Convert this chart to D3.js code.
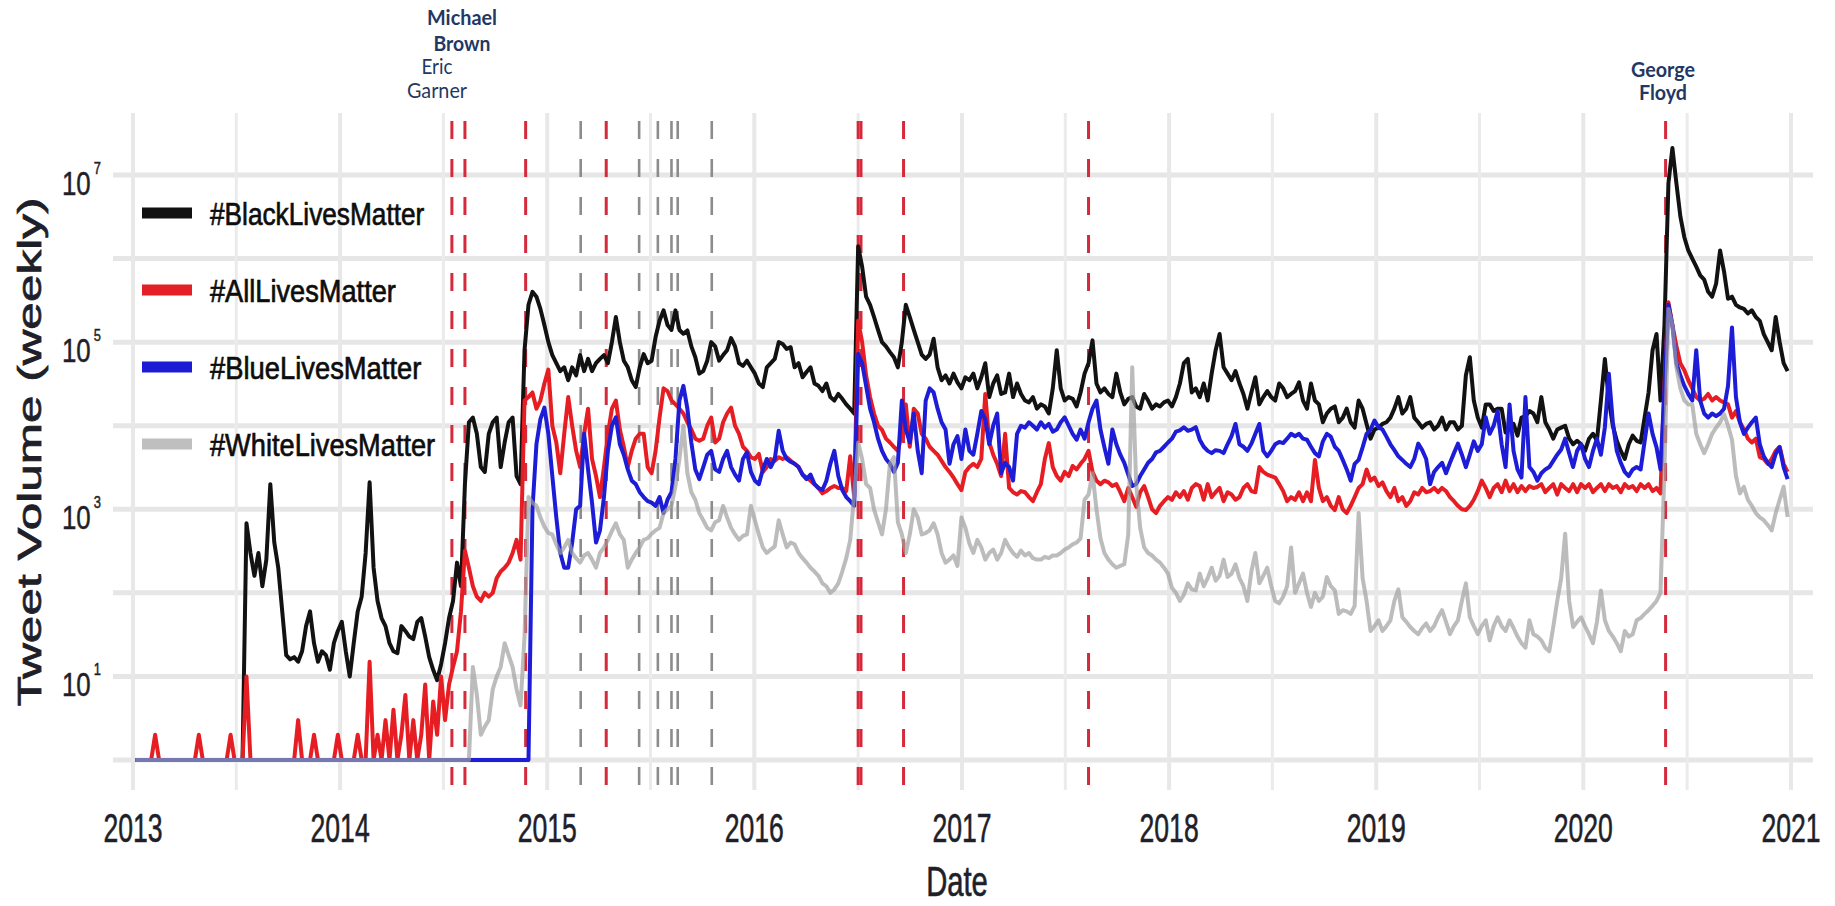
<!DOCTYPE html>
<html>
<head>
<meta charset="utf-8">
<script src="https://cdn.jsdelivr.net/npm/d3@7"></script>
<style>
  html, body { margin: 0; padding: 0; background: #ffffff; }
  svg { display: block; }
</style>
</head>
<body>
<svg id="chart" width="1835" height="906"></svg>
<script>
// Weekly tweet counts per hashtag, one value per week starting 2013-01-05
const firstWeek = "2013-01-05";

const blackLivesMatter = [
  // 2013
  1,1,1,1,1,1,1,1,1,1,1,1,1,1,1,1,1,1,1,1,1,1,1,1,1,1,1,1,
  680,300,160,300,120,250,2000,400,200,60,18,16,17,15,20,40,60,25,15,20,18,12,25,35,
  // 2014
  45,20,10,25,60,90,300,2100,200,80,
  50,40,25,20,19,40,35,30,28,45,
  50,30,17,12,9,14,25,50,80,230,
  120,2000,11000,12500,8000,3200,2800,8000,11000,12500,
  3200,6300,11000,12500,2500,2000,80000,280000,400000,350000,
  250000,160000,
  // 2015
  100000,70000,56000,45000,50000,35000,50000,40000,70000,45000,
  63000,45000,56000,63000,70000,56000,100000,200000,100000,60000,
  50000,35000,29000,50000,72000,56000,60000,115000,180000,240000,
  160000,140000,240000,140000,126000,138000,89000,66000,42000,45000,
  60000,100000,89000,60000,70000,80000,112000,89000,56000,52000,
  60000,50000,
  // 2016
  42000,32000,29000,50000,56000,63000,100000,95000,83000,87000,
  50000,56000,38000,44000,50000,32000,30000,26000,32000,22000,
  20000,24000,21000,18000,16000,14000,1400000,800000,350000,280000,
  200000,140000,100000,89000,76000,66000,50000,100000,280000,200000,
  140000,100000,71000,63000,71000,110000,50000,35000,40000,32000,
  42000,33000,28000,
  // 2017
  38000,35000,42000,28000,38000,56000,22000,32000,40000,24000,
  25000,42000,22000,32000,24000,20000,19000,22000,16000,18000,
  17000,14000,28000,80000,28000,20000,22000,21000,17000,25000,
  42000,56000,105000,32000,25000,28000,24000,22000,42000,25000,
  18000,21000,22000,17000,16000,24000,20000,16000,18000,17000,
  19000,20000,
  // 2018
  17000,22000,32000,56000,63000,25000,28000,22000,32000,20000,
  42000,80000,125000,50000,42000,35000,45000,32000,24000,16000,
  25000,38000,18000,22000,26000,22000,20000,32000,28000,22000,
  24000,26000,33000,20000,16000,32000,20000,18000,11000,14000,
  16000,17000,11000,12500,16000,11000,9500,20000,16000,10500,
  7000,9000,
  // 2019
  9500,10500,11000,12500,16000,22000,14000,16000,22000,12500,
  11000,9500,10500,11000,9000,10000,12500,9000,11000,11000,
  9000,10000,40000,66000,20000,12500,9500,18000,18000,15000,
  16000,16000,8300,10000,10500,7600,12500,13000,15000,14000,
  11000,22000,11000,9000,7000,9000,9500,10000,7000,6000,
  6600,6000,
  // 2020
  5000,7000,8000,6600,20000,63000,20000,10000,6600,5000,
  4000,6000,7600,6600,6300,12500,25000,80000,125000,20000,
  160000,8000000,21000000,8000000,3200000,1800000,1250000,1000000,800000,630000,
  560000,400000,350000,500000,1250000,700000,330000,350000,280000,260000,
  250000,220000,240000,200000,180000,125000,100000,80000,200000,100000,
  56000,45000
];

const allLivesMatter = [
  // 2013
  1,1,1,1,1,2,1,1,1,1,1,1,1,1,1,1,2,1,1,1,1,1,1,1,2,1,1,1,10,
  1,1,1,1,1,1,1,1,1,1,1,1,3,1,1,1,2,1,1,1,1,1,2,
  // 2014
  1,1,1,1,2,1,1,15,1,2,
  1,3,1,4,1,2,6,1,3,1,
  2,8,1,5,2,10,3,8,13,20,
  60,320,200,120,90,80,100,90,100,150,
  180,200,230,300,430,250,20000,22000,25000,16000,
  20000,32000,
  // 2015
  47000,10000,6300,2700,8000,22000,10000,5000,3200,8000,
  16000,4000,2500,1400,3200,8000,16000,20000,9000,5600,
  3200,5000,7000,8000,8000,3200,2700,5000,12500,28000,
  26000,20000,18000,16000,14000,11000,9000,7000,6600,7000,
  10000,12500,6300,7000,11000,14000,16500,10000,8000,5600,
  5000,4200,
  // 2016
  4000,4600,2800,3200,4000,3800,4200,4000,4200,3800,
  3500,3200,2600,2400,2200,2000,1800,1550,1650,1800,
  1900,1800,1800,1650,4300,1400,180000,100000,40000,22000,
  14000,10000,8900,7000,6300,5600,5000,8000,18000,5600,
  16000,14000,8000,7000,5600,5000,4500,3800,3200,2800,
  2400,2000,1700,
  // 2017
  2800,3200,3500,3200,4000,24000,6300,4500,3500,2500,
  8000,1800,1600,1500,1650,1600,1400,1250,1600,2000,
  4000,6200,3200,2500,2200,2800,2500,3300,3000,3500,
  4000,5000,2800,2200,2000,2200,2100,1900,2000,1600,
  1250,1800,1400,1070,1600,1900,1400,1000,900,1100,
  1250,1400,
  // 2018
  1300,1600,1400,1650,1300,1800,2000,1900,1300,2000,
  1400,1600,1800,1250,1600,1500,1300,1400,1800,2000,
  1650,1600,3200,2800,2600,2500,2400,2000,1650,1250,
  1400,1300,1600,1250,1600,1250,3900,1800,1250,1400,
  1100,980,1400,1000,900,1100,1400,1800,2000,3000,
  2200,2400,
  // 2019
  1900,2100,1650,1400,1800,1250,1400,1100,1250,1600,
  1500,1800,1600,1650,1800,1600,1800,1650,1400,1250,
  1100,1000,980,1100,1300,1650,2200,1800,1400,1800,
  2000,1600,2200,1650,2000,1600,1900,1650,1900,1800,
  1850,2000,1600,1800,2000,1500,2000,1800,1650,2000,
  1600,2000,
  // 2020
  1800,2000,1600,1800,2000,1650,2000,1800,1900,1600,
  2000,1800,1900,1650,2000,1800,2000,1650,1800,1550,
  32000,300000,160000,90000,56000,46000,35000,28000,22000,20000,
  21000,24000,20000,22000,20000,19000,18000,12500,15000,11000,
  9000,7000,6300,7000,4200,4000,3500,4000,5000,5600,
  3500,2800
];

const blueLivesMatter = [
  // 2013
  1,1,1,1,1,1,1,1,1,1,1,1,1,1,1,1,1,1,1,1,1,1,1,1,1,1,
  1,1,1,1,1,1,1,1,1,1,1,1,1,1,1,1,1,1,1,1,1,1,1,1,1,1,
  // 2014
  1,1,1,1,1,1,1,1,1,1,1,1,1,1,1,1,1,1,1,1,1,1,1,1,
  1,1,1,1,1,1,1,1,1,1,1,1,1,1,1,1,1,1,1,1,1,1,1,1,
  1000,6000,12000,16500,
  // 2015
  8000,2500,800,300,200,200,400,1000,1100,8000,
  3000,1200,400,560,1400,5000,10000,12600,6000,4500,
  3000,2200,2000,1600,1400,1250,1200,1100,1400,900,
  1300,1600,4000,20000,30000,16000,6300,3000,2300,3200,
  4500,5000,3000,2800,4000,5000,3200,2600,2200,4000,
  4800,2800,
  // 2016
  2200,2000,3000,4000,3200,4000,8700,5000,4000,3700,
  3500,3200,2600,2300,2600,2000,1800,1700,2200,3500,
  5000,2500,1700,1400,1250,1100,72000,56000,30000,16000,
  11000,7000,5000,4000,3500,2800,3600,20000,9000,6300,
  14000,5000,2700,20000,28000,25000,16000,11000,9000,3500,
  6000,7500,4000,
  // 2017
  9000,5000,4500,8000,15000,12000,6000,10000,14000,2700,
  3600,3200,2200,8000,10000,9500,11000,10000,9000,11000,
  9500,10500,8500,9000,11000,12600,10000,8000,6800,9000,
  7000,11000,16000,20000,9000,5500,3500,9000,6000,4500,
  3600,2600,1900,2000,2500,3000,3600,4000,4800,5000,
  5600,6300,
  // 2018
  7000,8500,8800,9600,8700,9000,9600,6800,5600,5000,
  4700,5100,5000,4700,6000,7500,10500,6000,5600,5000,
  6100,8000,10500,5000,4300,5000,6000,6400,6200,7000,
  8000,7500,8000,7000,6800,5600,4700,4300,6500,8000,
  7400,5600,5000,3900,3000,2200,3500,3900,5500,8000,
  9000,11500,
  // 2019
  9600,9000,7400,6000,5100,4300,3900,3500,3200,4000,
  6100,5100,4000,2000,2800,3200,3600,2700,3600,4700,
  6100,4500,3200,4500,6500,5000,6000,12600,8000,10000,
  15000,6000,3200,18000,5000,3000,2400,22000,3200,2800,
  2200,2700,3000,3200,3800,4500,5200,7000,4700,3200,
  5000,6000,
  // 2020
  4000,3200,5000,7000,4500,9600,42000,11000,5000,3600,
  2800,2500,3000,3200,3000,6500,14000,8000,5500,3000,
  28000,280000,160000,56000,40000,30000,24000,20000,80000,20000,
  14000,12500,14000,13000,14000,16000,30000,150000,22000,11000,
  8000,9500,11000,12500,6000,4300,3600,3200,4600,5500,
  3200,2300
];

const whiteLivesMatter = [
  // 2013
  1,1,1,1,1,1,1,1,1,1,1,1,1,1,1,1,1,1,1,1,1,1,1,1,1,1,
  1,1,1,1,1,1,1,1,1,1,1,1,1,1,1,1,1,1,1,1,1,1,1,1,1,1,
  // 2014
  1,1,1,1,1,1,1,1,1,1,1,1,1,1,1,1,1,1,1,1,1,1,1,1,1,1,1,1,1,1,1,1,1,
  13,6,2,2.5,3,7,10,13,25,18,13,7,4.5,30,1400,1200,1100,800,620,
  // 2015
  520,500,380,300,350,430,300,260,230,280,
  300,250,200,300,350,430,550,680,500,430,
  200,250,300,350,430,450,510,560,600,900,
  1000,1100,1900,4000,10000,2700,1600,1300,900,740,
  600,560,700,740,1100,800,600,500,430,480,
  500,1100,
  // 2016
  740,500,350,300,330,360,740,500,350,400,
  380,300,260,230,200,180,160,130,120,100,
  110,130,180,260,430,1500,6300,4000,2000,1800,
  1000,700,500,1000,3500,4200,700,500,300,500,
  1000,800,500,520,560,680,500,300,230,250,
  280,210,800,
  // 2017
  600,390,300,430,350,250,300,330,250,300,
  430,350,300,270,320,280,300,260,250,250,
  270,260,280,280,300,330,350,380,400,450,
  1300,1500,2700,1000,450,300,250,220,200,210,
  220,500,50000,2000,600,350,300,280,250,230,
  200,170,
  // 2018
  115,100,80,95,130,110,107,170,120,150,
  200,140,160,250,155,170,220,150,120,80,
  180,300,130,160,200,120,80,75,90,120,
  350,100,130,170,100,68,100,80,90,155,
  120,107,56,62,60,56,70,900,150,80,
  35,40,
  // 2019
  47,35,40,47,80,110,51,45,39,35,
  32,38,43,35,40,51,62,45,32,40,
  47,80,130,51,40,32,40,47,27,40,
  51,40,35,47,38,30,25,22,47,32,
  30,27,22,20,39,80,150,510,80,39,
  45,51,
  // 2020
  40,32,25,45,107,47,35,30,25,20,
  35,30,32,47,50,56,62,70,80,100,
  3000,250000,160000,50000,28000,20000,18000,18000,8000,6000,
  4700,6000,8000,9500,11000,13800,10000,6800,2500,1550,
  1860,1300,1100,900,800,740,650,560,900,1300,
  1860,810
];

const seriesNames = ["#BlackLivesMatter", "#AllLivesMatter", "#BlueLivesMatter", "#WhiteLivesMatter"];
const yearTicks = [2013, 2014, 2015, 2016, 2017, 2018, 2019, 2020, 2021];
const yTickExponents = [1, 3, 5, 7];
const gridExponents = [0, 1, 2, 3, 4, 5, 6, 7];

// Dates of police-violence events (red) and other incidents (gray)
const redEventDates = ["2014-07-17", "2014-08-09", "2014-11-24", "2015-04-15",
  "2016-07-02", "2016-07-07", "2016-09-20", "2017-08-12", "2020-05-25"];
const grayEventDates = ["2015-03-01", "2015-06-12", "2015-07-15", "2015-08-08",
  "2015-08-19", "2015-10-18"];

const eventNotes = [
  { lines: ["Michael", "Brown"], bold: true },
  { lines: ["Eric", "Garner"], bold: false },
  { lines: ["George", "Floyd"], bold: true }
];

// ---------- drawing ----------
const svg = d3.select("#chart");
const parse = d3.utcParse("%Y-%m-%d");
const start = parse(firstWeek);

const panel = { left: 113, right: 1813, top: 113, bottom: 790 };

const x = d3.scaleUtc()
  .domain([new Date(Date.UTC(2013, 0, 1)), new Date(Date.UTC(2021, 0, 1))])
  .range([133, 1791]);
const y = d3.scaleLog()
  .domain([Math.pow(10, -0.359), Math.pow(10, 7.754)])
  .range([panel.bottom, panel.top - 1]);

const axisFont = "'Liberation Sans', Arial, sans-serif";
const inkColor = "#1f1f2a";

// grid
const grid = svg.append("g");
grid.selectAll("line.h").data(gridExponents).join("line")
  .attr("x1", panel.left).attr("x2", panel.right)
  .attr("y1", d => y(Math.pow(10, d))).attr("y2", d => y(Math.pow(10, d)))
  .attr("stroke", "#e6e6e6").attr("stroke-width", 5);

const midYears = yearTicks.slice(0, -1).map(yr => new Date(Date.UTC(yr, 6, 2)));
grid.selectAll("line.vm").data(midYears).join("line")
  .attr("x1", d => x(d)).attr("x2", d => x(d))
  .attr("y1", panel.top).attr("y2", panel.bottom)
  .attr("stroke", "#ebebeb").attr("stroke-width", 3);
grid.selectAll("line.v").data(yearTicks).join("line")
  .attr("x1", d => x(new Date(Date.UTC(d, 0, 1)))).attr("x2", d => x(new Date(Date.UTC(d, 0, 1))))
  .attr("y1", panel.top).attr("y2", panel.bottom)
  .attr("stroke", "#e8e8e8").attr("stroke-width", 4);

// event markers
const events = svg.append("g");
events.selectAll("line.g").data(grayEventDates).join("line")
  .attr("x1", d => x(parse(d))).attr("x2", d => x(parse(d)))
  .attr("y1", 121).attr("y2", panel.bottom)
  .attr("stroke", "#8c8c8c").attr("stroke-width", 2.6)
  .attr("stroke-dasharray", "18,20");
events.selectAll("line.r").data(redEventDates).join("line")
  .attr("x1", d => x(parse(d))).attr("x2", d => x(parse(d)))
  .attr("y1", 121).attr("y2", panel.bottom)
  .attr("stroke", "#d42a3c").attr("stroke-width", 3)
  .attr("stroke-dasharray", "18,20");

// series (the white-lives line is semi-transparent, so it tints what lies beneath)
const seriesValues = [blackLivesMatter, allLivesMatter, blueLivesMatter, whiteLivesMatter];
const seriesStyle = [
  { stroke: "#121212", opacity: 1 },
  { stroke: "#e61e24", opacity: 1 },
  { stroke: "#1d1dd8", opacity: 1 },
  { stroke: "#a0a0a0", opacity: 0.7 }
];
const line = d3.line()
  .x(d => x(d.date))
  .y(d => y(d.v));

seriesValues.forEach((vals, s) => {
  const pts = vals.map((v, i) => ({ date: d3.utcDay.offset(start, 7 * i), v }));
  svg.append("path")
    .datum(pts)
    .attr("d", line)
    .attr("fill", "none")
    .attr("stroke", seriesStyle[s].stroke)
    .attr("stroke-opacity", seriesStyle[s].opacity)
    .attr("stroke-width", 4)
    .attr("stroke-linejoin", "round");
});

// legend
const legendColors = ["#111111", "#e41f26", "#1c1cd4", "#bfbfbf"];
const legendY = [213, 290, 367, 444];
const legendSqueeze = [0.82, 0.85, 0.855, 0.85];
const legend = svg.append("g");
seriesNames.forEach((name, i) => {
  legend.append("line")
    .attr("x1", 142).attr("x2", 192)
    .attr("y1", legendY[i]).attr("y2", legendY[i])
    .attr("stroke", legendColors[i]).attr("stroke-width", 11);
  legend.append("text")
    .attr("transform", `translate(210,${legendY[i] + 12}) scale(${legendSqueeze[i]},1)`)
    .attr("font-family", axisFont).attr("font-size", 32)
    .attr("fill", "#0d0d0d")
    .attr("stroke", "#0d0d0d").attr("stroke-width", 0.7)
    .text(name);
});

// y tick labels: 10^n
const yTicks = svg.append("g").attr("font-family", axisFont)
  .attr("fill", inkColor).attr("stroke", inkColor).attr("stroke-width", 0.5);
yTickExponents.forEach(e => {
  const gy = y(Math.pow(10, e));
  const t = yTicks.append("text")
    .attr("transform", `translate(62,${gy + 20}) scale(0.76,1)`)
    .attr("font-size", 34);
  t.append("tspan").text("10");
  t.append("tspan").attr("dx", 4).attr("dy", -21).attr("font-size", 17).text(String(e));
});

// x tick labels
svg.append("g").selectAll("text").data(yearTicks).join("text")
  .attr("transform", d => `translate(${x(new Date(Date.UTC(d, 0, 1)))},842) scale(0.665,1)`)
  .attr("text-anchor", "middle")
  .attr("font-family", axisFont).attr("font-size", 40)
  .attr("fill", inkColor).attr("stroke", inkColor).attr("stroke-width", 0.6)
  .text(d => String(d));

// axis titles
svg.append("text")
  .attr("transform", "translate(957,896) scale(0.68,1)")
  .attr("text-anchor", "middle")
  .attr("font-family", axisFont).attr("font-size", 43)
  .attr("fill", inkColor).attr("stroke", inkColor).attr("stroke-width", 0.7)
  .text("Date");

svg.append("text")
  .attr("transform", "translate(41,452) rotate(-90) scale(1.5,1)")
  .attr("text-anchor", "middle")
  .attr("font-family", axisFont).attr("font-size", 33)
  .attr("fill", inkColor).attr("stroke", inkColor).attr("stroke-width", 0.7)
  .text("Tweet Volume (weekly)");

// event annotations
const noteLayout = [
  { cx: 462, base: [25, 51], widths: [70, 57] },
  { cx: 437, base: [74, 98], widths: [31, 60] },
  { cx: 1663, base: [77, 100], widths: [64, 48] }
];
eventNotes.forEach((note, k) => {
  const lay = noteLayout[k];
  note.lines.forEach((txt, j) => {
    svg.append("text")
      .attr("x", lay.cx).attr("y", lay.base[j])
      .attr("text-anchor", "middle")
      .attr("font-family", "Lato, 'Open Sans', sans-serif")
      .attr("font-weight", note.bold ? 700 : 400)
      .attr("font-size", 21)
      .attr("textLength", lay.widths[j]).attr("lengthAdjust", "spacingAndGlyphs")
      .attr("fill", "#1f3864")
      .text(txt);
  });
});
</script>
</body>
</html>
